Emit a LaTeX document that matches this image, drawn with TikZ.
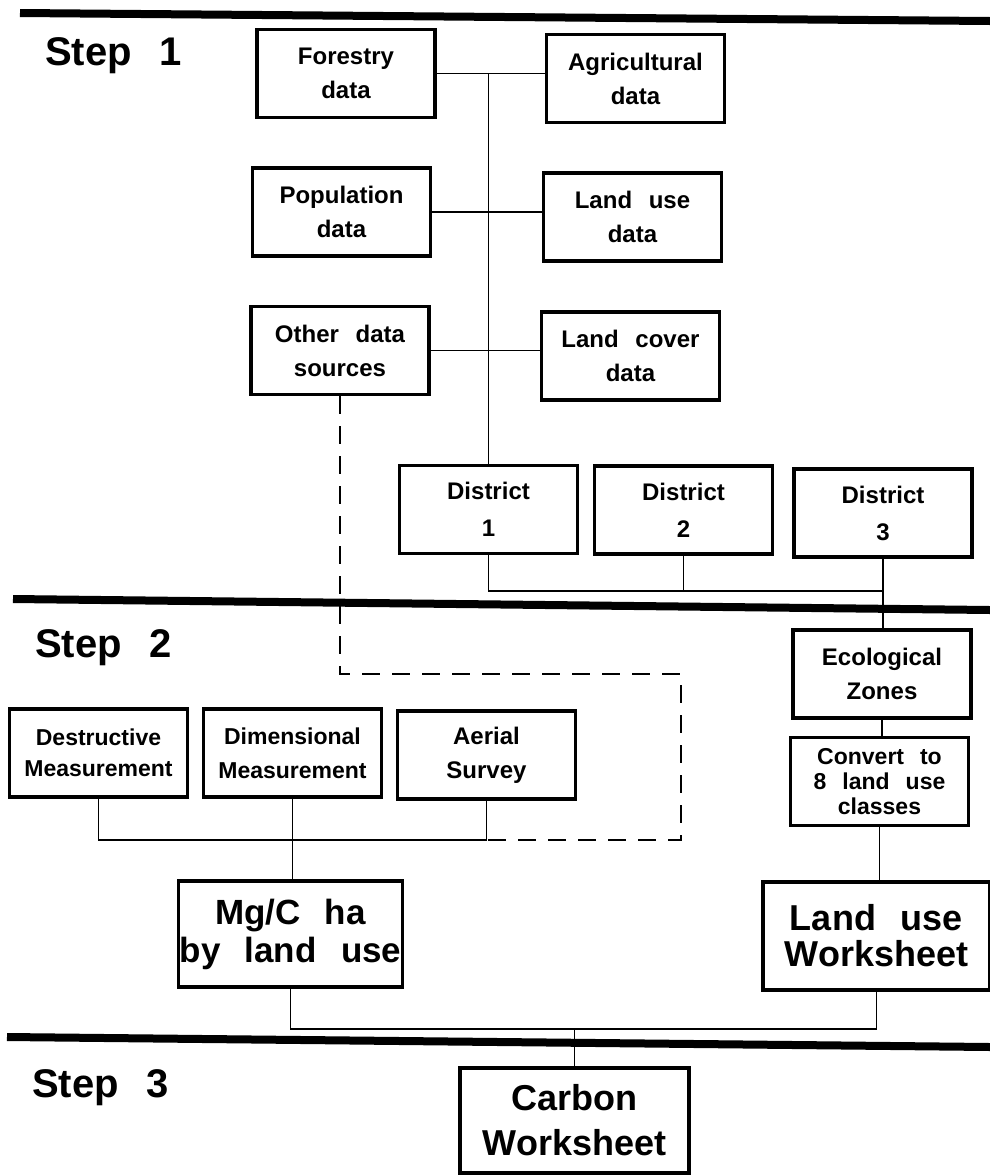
\documentclass[tikz,border=0pt]{standalone}
\usepackage{fontspec}
\setmainfont{Liberation Sans}[WordSpace=2.5]

\begin{document}
\begin{tikzpicture}[x=1pt, y=-1pt,
    databox/.style={draw, line width=3.5pt, minimum width=178pt, minimum height=88pt,
        inner sep=0pt, align=center, font=\fontsize{24}{34}\selectfont\bfseries},
    bigbox/.style={databox, minimum width=224pt, minimum height=106pt,
        font=\fontsize{35}{38}\selectfont\bfseries},
    steplabel/.style={anchor=base west, inner sep=0pt, font=\fontsize{40}{40}\selectfont\bfseries},
    link/.style={line width=1.5pt},
    dashlink/.style={line width=2pt, dash pattern=on 18pt off 12pt},
    rule/.style={line width=8pt}]
\useasboundingbox (0,0) rectangle (990,1176);

% Step rules and labels
\draw[rule] (20,13) -- (990,21);
\draw[rule] (13,599) -- (990,610);
\draw[rule] (7,1037) -- (990,1047);
\node[steplabel] (step1) at (45,65) {Step 1};
\node[steplabel] (step2) at (35,657) {Step 2};
\node[steplabel] (step3) at (32,1097) {Step 3};

% Step 1: data sources
\node[databox] (forestry) at (346,73.5) {Forestry\\data};
\node[databox] (agri) at (635.5,78.5) {Agricultural\\data};
\node[databox] (population) at (341.5,212) {Population\\data};
\node[databox] (landuse) at (632.5,217) {Land use\\data};
\node[databox] (other) at (340,350.5) {Other data\\sources};
\node[databox] (landcover) at (630.5,356) {Land cover\\data};
\foreach \i/\x/\y in {1/488.5/509.5, 2/683.5/510, 3/883/513} {
    \node[databox, font=\fontsize{24}{37}\selectfont\bfseries] (dist\i) at (\x,\y) {District\\\i};
}

% Step 2: measurements and zones
\node[databox, font=\fontsize{23}{31}\selectfont\bfseries] (destr) at (98.5,753) {Destructive\\Measurement};
\node[databox, font=\fontsize{23}{34}\selectfont\bfseries] (dimen) at (292.5,753) {Dimensional\\Measurement};
\node[databox] (aerial) at (486.5,755) {Aerial\\Survey};
\node[databox] (eco) at (882,674) {Ecological\\Zones};
\node[databox, font=\fontsize{23}{25}\selectfont\bfseries] (convert) at (879.5,781.5) {Convert to\\8 land use\\classes};
\node[bigbox] (mgc) at (290.5,934) {Mg/C ha\\by land use};
\node[bigbox, minimum width=227pt, minimum height=108pt,
    font=\fontsize{36}{36}\selectfont\bfseries] (luws) at (876.5,936) {Land use\\Worksheet};

% Step 3
\node[bigbox, minimum width=229pt, minimum height=105pt,
    font=\fontsize{36}{45}\selectfont\bfseries] (carbon) at (574.5,1120.5) {Carbon\\Worksheet};

% Connectors
\coordinate (distbus) at (0,591);
\coordinate (measbus) at (0,840);
\coordinate (dashcorner) at (681,674);
\coordinate (wsbus) at (574.5,1029);
\draw[link] (forestry.east) -- (forestry.east -| agri.west);
\draw[link] (population.east) -- (population.east -| landuse.west);
\draw[link] (other.east) -- (other.east -| landcover.west);
\draw[link] (forestry.east -| dist1.north) -- (dist1.north);
\draw[link] (dist1.south) |- (distbus -| dist3.south);
\draw[link] (dist2.south) -- (dist2.south |- distbus);
\draw[link] (dist3.south) -- (dist3.south |- eco.north);
\draw[link] (eco.south) -- (eco.south |- convert.north);
\draw[link] (convert.south) -- (convert.south |- luws.north);
\draw[link] (destr.south) |- (measbus -| aerial.south) -- (aerial.south);
\draw[link] (dimen.south) -- (dimen.south |- mgc.north);
\draw[link] (mgc.south) |- (wsbus) -| (luws.south);
\draw[link] (wsbus) -- (carbon.north);
\draw[dashlink] (other.south) |- (dashcorner) |- (measbus -| aerial.south);
\end{tikzpicture}
\end{document}
